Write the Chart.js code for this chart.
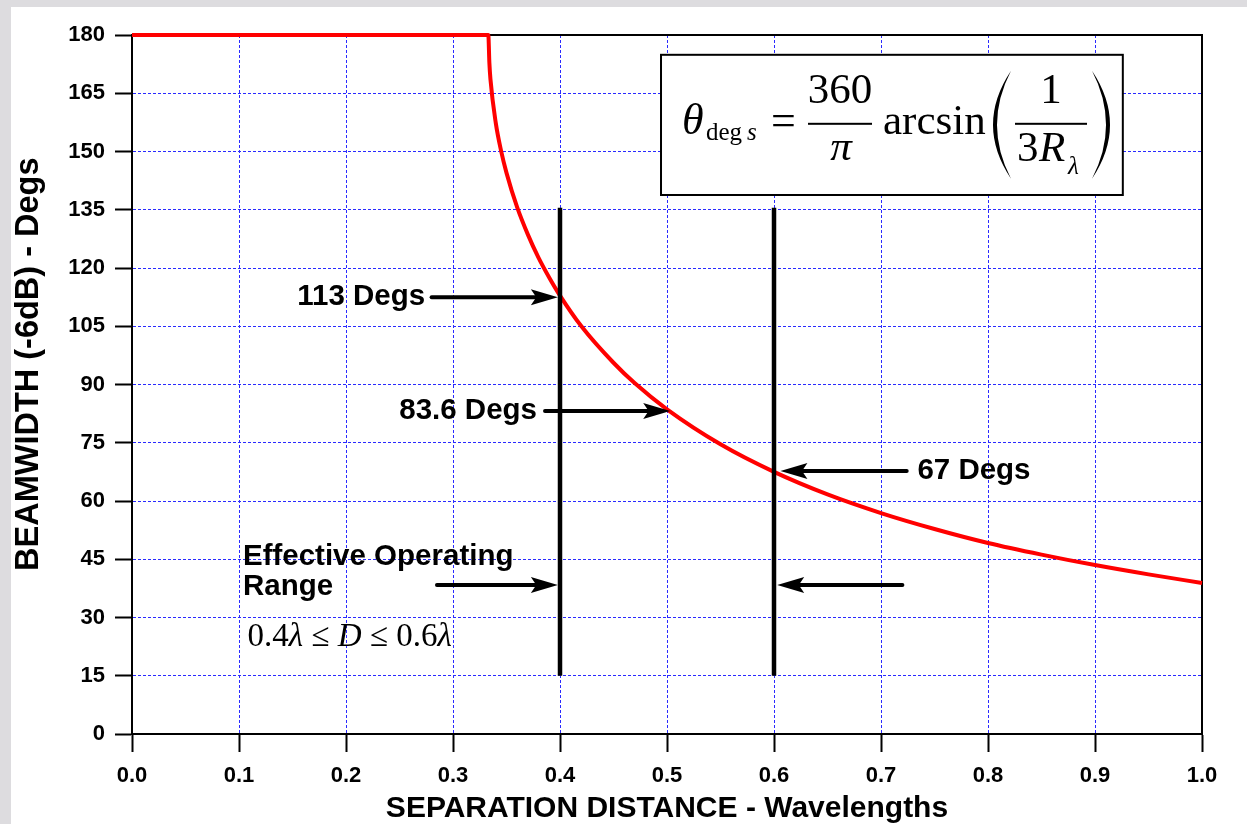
<!DOCTYPE html>
<html><head><meta charset="utf-8">
<script src="https://cdn.jsdelivr.net/npm/chart.js@4"></script>
<style>html,body{margin:0;padding:0;background:#fff;}#wrap{width:1247px;height:824px;position:relative}canvas{display:block}</style>
</head><body><div id="wrap"><canvas id="c" width="1247" height="824"></canvas></div>
<script>
// ---- data ----
const separation = [0, 0.1, 0.2, 0.3, 0.333, 0.334, 0.335, 0.34, 0.345, 0.35, 0.36, 0.37, 0.38, 0.39, 0.40, 0.42, 0.45, 0.47, 0.50, 0.55, 0.60, 0.65, 0.70, 0.75, 0.80, 0.85, 0.90, 0.95, 1.00];
const beamwidth  = [180, 180, 180, 180, 180, 172.8, 168.6, 157.3, 150.1, 144.5, 135.6, 128.6, 122.6, 117.5, 112.9, 105.0, 95.6, 90.3, 83.6, 74.6, 67.5, 61.7, 56.9, 52.8, 49.2, 46.2, 43.5, 41.1, 38.9];
const xTitle = 'SEPARATION DISTANCE - Wavelengths';
const yTitle = 'BEAMWIDTH (-6dB) - Degs';
// range markers (x value, y from, y to)
const rangeX = [0.4, 0.6];
const rangeY = [15, 135.5];
// arrows: [xFrom, yFrom, xTo, yTo] in data units
const arrowFromX = [0.280, 0.386, 0.724, 0.285, 0.720];
const arrowFromY = [112.5, 83.2, 67.7, 38.4, 38.4];
const arrowToX   = [0.398, 0.503, 0.606, 0.398, 0.603];
const arrowToY   = [112.5, 83.2, 67.7, 38.4, 38.4];
// callout texts
const calloutText  = ['113 Degs', '83.6 Degs', '67 Degs', 'Effective Operating', 'Range'];
const calloutX     = [0.274, 0.3785, 0.734, 0.1037, 0.1037];
const calloutY     = [112.5, 83.2, 67.7, 45.6, 37.9];
const calloutAlign = ['right', 'right', 'left', 'left', 'left'];
// formula box corners in data units
const boxX = [0.4944, 0.926];
const boxY = [174.9, 138.8];
const rangeNoteX = 0.108, rangeNoteY = 25;

const SANS = '"Liberation Sans", Arial, sans-serif';
const SERIF = '"Liberation Serif", "Times New Roman", serif';

function drawArrow(ctx, x0, y0, x1, y1) {
  const a = Math.atan2(y1 - y0, x1 - x0), L = 27, W = 8;
  const c = Math.cos(a), s = Math.sin(a);
  ctx.save();
  ctx.strokeStyle = '#000'; ctx.fillStyle = '#000';
  ctx.lineWidth = 4; ctx.lineCap = 'round';
  ctx.beginPath(); ctx.moveTo(x0, y0); ctx.lineTo(x1 - c * L * 0.7, y1 - s * L * 0.7); ctx.stroke();
  ctx.beginPath();
  ctx.moveTo(x1, y1);
  ctx.lineTo(x1 - c * L - s * W, y1 - s * L + c * W);
  ctx.lineTo(x1 - c * L * 0.8, y1 - s * L * 0.8);
  ctx.lineTo(x1 - c * L + s * W, y1 - s * L - c * W);
  ctx.closePath(); ctx.fill();
  ctx.restore();
}

function drawFormula(ctx, bx, by, bw, bh) {
  ctx.save();
  ctx.fillStyle = '#fff';
  ctx.fillRect(bx, by, bw, bh);
  ctx.lineWidth = 2; ctx.strokeStyle = '#000';
  ctx.strokeRect(bx, by, bw, bh);
  ctx.fillStyle = '#000';
  ctx.textBaseline = 'alphabetic';
  ctx.textAlign = 'left';
  ctx.translate(bx, by);
  // theta_deg s
  ctx.font = 'italic 44px ' + SERIF; ctx.fillText('θ', 21, 79);
  ctx.font = '25px ' + SERIF; ctx.fillText('deg', 45, 85);
  ctx.font = 'italic 25px ' + SERIF; ctx.fillText('s', 86, 85);
  ctx.font = '44px ' + SERIF; ctx.fillText('=', 110, 80);
  // 360 / pi
  ctx.textAlign = 'center';
  ctx.font = '43px ' + SERIF; ctx.fillText('360', 179, 48);
  ctx.fillRect(147, 68, 64, 2);
  ctx.font = 'italic 43px ' + SERIF; ctx.fillText('π', 180, 105);
  ctx.textAlign = 'left';
  ctx.font = '43px ' + SERIF; ctx.fillText('arcsin', 222, 79);
  // parentheses
  ctx.beginPath();
  ctx.moveTo(350, 16); ctx.quadraticCurveTo(314, 70, 350, 124);
  ctx.quadraticCurveTo(322, 70, 350, 16); ctx.fill();
  ctx.beginPath();
  ctx.moveTo(431, 16); ctx.quadraticCurveTo(467, 70, 431, 124);
  ctx.quadraticCurveTo(459, 70, 431, 16); ctx.fill();
  // 1 / 3R_lambda
  ctx.textAlign = 'center';
  ctx.font = '43px ' + SERIF; ctx.fillText('1', 390, 48);
  ctx.fillRect(354, 68, 72, 2);
  ctx.textAlign = 'left';
  ctx.font = '43px ' + SERIF; ctx.fillText('3', 356, 106);
  ctx.font = 'italic 43px ' + SERIF; ctx.fillText('R', 378, 106);
  ctx.font = 'italic 25px ' + SERIF; ctx.fillText('λ', 407, 119);
  ctx.restore();
}

const overlay = {
  id: 'overlay',
  beforeDraw(chart) {
    const ctx = chart.ctx;
    ctx.save();
    ctx.fillStyle = '#fff'; ctx.fillRect(0, 0, chart.width, chart.height);
    ctx.fillStyle = '#dddcdf';
    ctx.fillRect(0, 0, chart.width, 7);
    ctx.fillRect(0, 0, 11, chart.height);
    ctx.restore();
  },
  beforeDatasetsDraw(chart) {
    const {ctx, chartArea: a, scales: {x, y}} = chart;
    ctx.save();
    ctx.strokeStyle = '#000'; ctx.lineWidth = 2;
    ctx.strokeRect(a.left, a.top, a.right - a.left, a.bottom - a.top);
    ctx.restore();
    const bx = x.getPixelForValue(boxX[0]), by = y.getPixelForValue(boxY[0]);
    drawFormula(ctx, bx, by, x.getPixelForValue(boxX[1]) - bx, y.getPixelForValue(boxY[1]) - by);
  },
  afterDatasetsDraw(chart) {
    const {ctx, chartArea: a, scales: {x, y}} = chart;
    ctx.save();
    ctx.strokeStyle = '#000'; ctx.lineWidth = 4.5;
    rangeX.forEach(v => {
      const px = x.getPixelForValue(v);
      ctx.beginPath(); ctx.moveTo(px, y.getPixelForValue(rangeY[0])); ctx.lineTo(px, y.getPixelForValue(rangeY[1])); ctx.stroke();
    });
    ctx.restore();
    for (let i = 0; i < arrowFromX.length; i++) {
      drawArrow(ctx, x.getPixelForValue(arrowFromX[i]), y.getPixelForValue(arrowFromY[i]),
                     x.getPixelForValue(arrowToX[i]), y.getPixelForValue(arrowToY[i]));
    }
    ctx.save();
    ctx.fillStyle = '#000';
    ctx.font = 'bold 29.5px ' + SANS;
    ctx.textBaseline = 'middle';
    for (let i = 0; i < calloutText.length; i++) {
      ctx.textAlign = calloutAlign[i];
      ctx.fillText(calloutText[i], x.getPixelForValue(calloutX[i]), y.getPixelForValue(calloutY[i]));
    }
    // 0.4λ ≤ D ≤ 0.6λ
    ctx.textAlign = 'left';
    let px = x.getPixelForValue(rangeNoteX);
    const py = y.getPixelForValue(rangeNoteY);
    const parts = [['0.4', ''], ['λ', 'italic '], [' ≤ ', ''], ['D', 'italic '], [' ≤ 0.6', ''], ['λ', 'italic ']];
    parts.forEach(([t, st]) => {
      ctx.font = st + '33px ' + SERIF;
      ctx.fillText(t, px, py);
      px += ctx.measureText(t).width;
    });
    ctx.restore();
    // y-axis title (drawn here to match its off-centre placement)
    ctx.save();
    ctx.translate(29, a.top + (a.bottom - a.top) * 0.471);
    ctx.rotate(-Math.PI / 2);
    ctx.textAlign = 'center'; ctx.textBaseline = 'middle';
    ctx.fillStyle = '#000';
    ctx.font = 'bold 32.5px ' + SANS;
    ctx.fillText(yTitle, 0, 0);
    ctx.restore();
  }
};

new Chart(document.getElementById('c'), {
  type: 'line',
  data: {
    datasets: [{
      data: separation.map((v, i) => ({x: v, y: beamwidth[i]})),
      borderColor: '#ff0000',
      borderWidth: 4,
      pointRadius: 0,
      fill: false,
      cubicInterpolationMode: 'monotone',
      clip: 6
    }]
  },
  options: {
    responsive: false,
    animation: false,
    devicePixelRatio: 1,
    layout: {padding: {left: 0, top: 35, right: 45, bottom: 0}},
    plugins: {legend: {display: false}, tooltip: {enabled: false}},
    scales: {
      x: {
        type: 'linear', min: 0, max: 1,
        afterFit(s) { s.height = 90; },
        ticks: {stepSize: 0.1, callback: v => v.toFixed(1), color: '#000', font: {family: SANS, size: 22, weight: 'bold'}, padding: 11, maxRotation: 0},
        grid: {color: '#2a2aff', lineWidth: 1, tickLength: 18, tickColor: '#000', tickWidth: 2},
        border: {display: true, color: '#000', width: 2, dash: [3, 2]},
        title: {display: true, text: xTitle, color: '#000', font: {family: SANS, size: 30, weight: 'bold', lineHeight: 1.0}, padding: {top: 0, bottom: 0}}
      },
      y: {
        type: 'linear', min: 0, max: 180,
        afterFit(s) { s.width = 132; },
        ticks: {stepSize: 15, color: '#000', font: {family: SANS, size: 22, weight: 'bold'}, padding: 10},
        grid: {color: '#2a2aff', lineWidth: 1, tickLength: 17, tickColor: '#000', tickWidth: 2},
        border: {display: true, color: '#000', width: 2, dash: [3, 2]},
        title: {display: false}
      }
    }
  },
  plugins: [overlay]
});
</script>
</body></html>
